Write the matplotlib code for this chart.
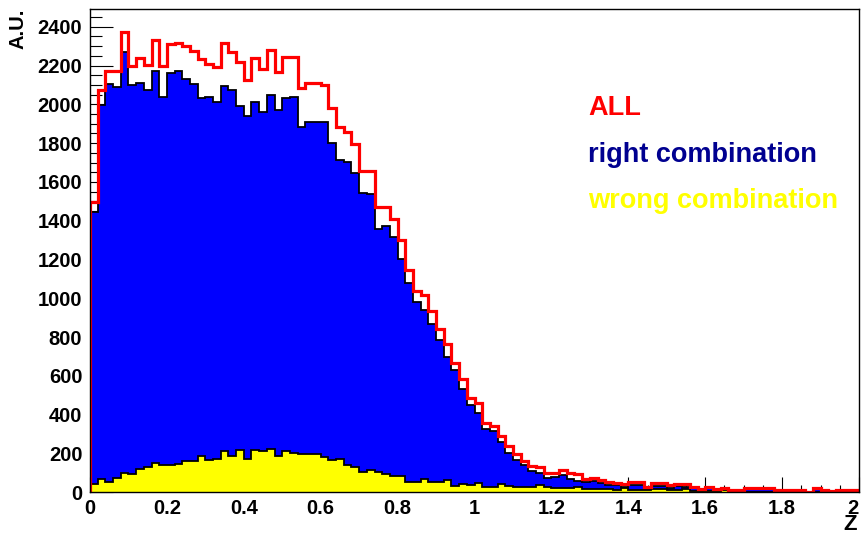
import numpy as np
import matplotlib
matplotlib.use("Agg")
import matplotlib.pyplot as plt
from matplotlib.ticker import MultipleLocator, FixedLocator
from matplotlib.transforms import ScaledTranslation

# Z distribution, 100 bins of width 0.02 between 0 and 2
bin_edges = np.linspace(0.0, 2.0, 101)

all_counts = [
    1495, 2072, 2170, 2170, 2373, 2197, 2239, 2204, 2330, 2197,
    2309, 2318, 2299, 2275, 2235, 2209, 2192, 2318, 2270, 2218,
    2124, 2239, 2180, 2280, 2166, 2244, 2244, 2086, 2110, 2110,
    2101, 1983, 1883, 1857, 1794, 1656, 1656, 1471, 1471, 1407,
    1299, 1144, 1036, 1015, 933, 844, 762, 667, 586, 486,
    460, 357, 340, 292, 240, 200, 163, 136, 130, 98,
    100, 115, 98, 96, 68, 72, 62, 55, 50, 44,
    52, 52, 29, 46, 46, 36, 41, 41, 26, 15,
    26, 15, 21, 12, 12, 22, 22, 22, 22, 12,
    12, 12, 12, 3, 21, 12, 5, 12, 12, 12,
]

right_counts = [
    1445, 1998, 2103, 2089, 2270, 2098, 2112, 2072, 2170, 2040,
    2163, 2170, 2130, 2103, 2031, 2038, 2010, 2096, 2072, 1990,
    1942, 2010, 1960, 2046, 1969, 2032, 2038, 1883, 1909, 1909,
    1909, 1802, 1711, 1702, 1648, 1545, 1540, 1359, 1373, 1316,
    1204, 1079, 981, 938, 869, 784, 695, 629, 534, 450,
    410, 328, 315, 258, 205, 165, 139, 112, 100, 74,
    79, 90, 70, 60, 52, 57, 47, 40, 38, 28,
    40, 40, 19, 31, 31, 24, 31, 26, 21, 10,
    21, 10, 11, 10, 10, 19, 19, 19, 19, 12,
    12, 12, 12, 3, 21, 12, 5, 12, 12, 12,
]

wrong_counts = [
    45, 71, 53, 74, 101, 96, 118, 130, 151, 139,
    139, 144, 160, 160, 186, 168, 174, 211, 187, 216,
    174, 216, 213, 225, 187, 213, 203, 196, 196, 196,
    182, 168, 174, 139, 130, 105, 113, 105, 96, 82,
    82, 53, 53, 71, 53, 53, 62, 31, 45, 38,
    46, 29, 29, 41, 32, 29, 26, 26, 36, 27,
    21, 21, 21, 29, 15, 15, 15, 15, 12, 20,
    12, 12, 10, 15, 15, 12, 10, 15, 5, 5,
    5, 5, 10, 2, 2, 3, 3, 3, 3, 0,
    0, 0, 0, 0, 0, 0, 0, 0, 0, 0,
]

x_tick_values = [0, 0.2, 0.4, 0.6, 0.8, 1.0, 1.2, 1.4, 1.6, 1.8, 2.0]
x_tick_labels = ["0", "0.2", "0.4", "0.6", "0.8", "1", "1.2", "1.4", "1.6", "1.8", "2"]
legend_labels = ["ALL", "right combination", "wrong combination"]

FONT = "Liberation Sans"

fig = plt.figure(figsize=(8.63, 5.37), dpi=100)
ax = fig.add_axes([90 / 863, 1 - 492.3 / 537, 769 / 863, 483 / 537])

ax.stairs(right_counts, bin_edges, fill=True, facecolor="#0000ff",
          edgecolor="black", linewidth=1.3, zorder=2)
ax.stairs(wrong_counts, bin_edges, fill=True, facecolor="#ffff00",
          edgecolor="black", linewidth=1.3, zorder=3)
ax.stairs(all_counts, bin_edges, color="#ff0000", linewidth=2.3, zorder=4)

ax.set_xlim(0, 2)
ax.set_ylim(0, 2490)
ax.set_axisbelow(True)

ax.xaxis.set_major_locator(FixedLocator(x_tick_values))
ax.set_xticklabels(x_tick_labels)
ax.xaxis.set_minor_locator(MultipleLocator(0.05))
ax.yaxis.set_major_locator(MultipleLocator(200))
ax.yaxis.set_minor_locator(MultipleLocator(50))

ax.tick_params(axis="both", which="both", direction="in", top=False, right=False,
               color="black", width=0.8)
ax.tick_params(axis="y", which="major", length=16.5, pad=5.5)
ax.tick_params(axis="y", which="minor", length=8.3)
ax.tick_params(axis="x", which="major", length=10.5, pad=5.0)
ax.tick_params(axis="x", which="minor", length=5.2)

for lab in ax.get_xticklabels() + ax.get_yticklabels():
    lab.set_fontfamily(FONT)
    lab.set_fontweight("bold")
    lab.set_fontsize(14.5)

# lift the y-axis "0" so it clears the x-axis "0"
ylabels = ax.get_yticklabels()
ylabels[0].set_transform(ylabels[0].get_transform()
                         + ScaledTranslation(0, 9 / 100, fig.dpi_scale_trans))
# keep the last x label inside the frame
xlabels = ax.get_xticklabels()
xlabels[-1].set_transform(xlabels[-1].get_transform()
                          + ScaledTranslation(-6 / 100, 0, fig.dpi_scale_trans))

for sp in ax.spines.values():
    sp.set_linewidth(1.0)
    sp.set_color("black")
    sp.set_zorder(5)

fig.text(18 / 863, 1 - 9 / 537, "A.U.", rotation=90, ha="center", va="top",
         fontfamily=FONT, fontweight="bold", fontsize=14.5)
fig.text(857 / 863, 2 / 537, "Z", ha="right", va="bottom",
         fontfamily=FONT, fontweight="bold", fontsize=16)

legend_colors = ["#ff0000", "#000090", "#ffff00"]
legend_y = [0.781, 0.684, 0.588]
for txt, col, yy in zip(legend_labels, legend_colors, legend_y):
    ax.text(0.6476, yy, txt, transform=ax.transAxes, ha="left", va="baseline",
            color=col, fontfamily=FONT, fontweight="bold", fontsize=19.5, zorder=6)

fig.savefig("out.png", dpi=100)
